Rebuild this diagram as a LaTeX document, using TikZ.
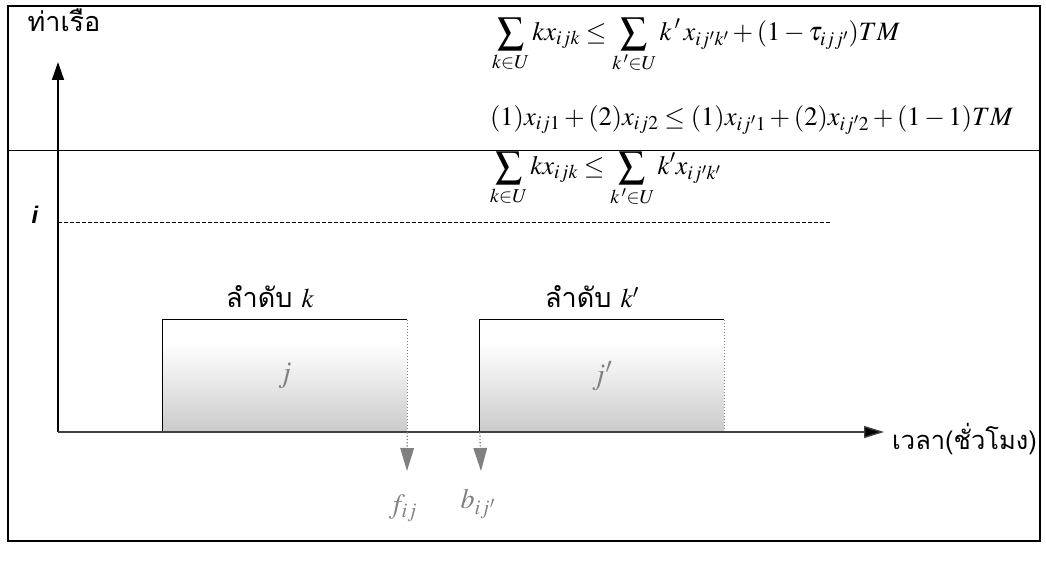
\documentclass[tikz,border=0pt]{standalone}
\usepackage{mathptmx}
\usepackage{fontspec}
\setmainfont{Liberation Serif}
\newfontfamily\thaifont[Script=Thai]{Loma}
\newfontfamily\ilabelfont{Liberation Sans}
\usetikzlibrary{arrows.meta}

\pgfdeclareverticalshading{slotfade}{100bp}{color(0bp)=(black!32); color(30bp)=(black!18); color(55bp)=(black!5); color(65bp)=(white); color(100bp)=(white)}

\tikzset{
  thai/.style={font=\thaifont\fontsize{27}{31}\selectfont, inner sep=0pt},
  eqn/.style={font=\fontsize{26.5}{30}\selectfont, inner sep=0pt},
  slot/.style={minimum width=244pt, minimum height=112pt, inner sep=0pt,
    shading=slotfade, draw=none,
    text=gray, font=\fontsize{30}{34}\selectfont},
  drop/.style={gray, dotted, line width=1.3pt,
    -{Triangle[length=23pt,width=14pt,fill=gray,line width=0pt]}},
  sub/.style={text=gray, font=\fontsize{28}{32}\selectfont, inner sep=0pt}
}

\begin{document}
\begin{tikzpicture}[x=1pt, y=-1pt]

\useasboundingbox (0,0) rectangle (1046,564);

% ── Frame ──
\draw[line width=2pt] (8,6) rectangle (1040,541);
\draw[line width=0.8pt] (8,150) -- (1040,150);

% ── Time slots of the berth ──
\node[slot] (boxk) at (285,376) {$j$};
\node[slot] (boxkp) at (602,376) {$j'$};
\draw[line width=0.8pt] (boxk.south west) -- (boxk.north west) -- (boxk.north east);
\draw[gray, dotted, line width=1pt] (boxk.north east) -- (boxk.south east);
\draw[line width=0.8pt] (boxkp.south west) -- (boxkp.north west) -- (boxkp.north east);
\draw[gray, dotted, line width=1pt] (boxkp.north east) -- (boxkp.south east);

\node[thai] (seqk) at (270,297) {ลำดับ $k$};
\node[thai] (seqkp) at (592,297) {ลำดับ $k'$};

% ── Axes ──
\coordinate (origin) at (58,432);
\coordinate (ytop) at (58,62);
\coordinate (xend) at (884,432);
\draw[line width=1.6pt, -{Triangle[length=18pt,width=12pt]}] (origin) -- (ytop);
\draw[line width=1.4pt, black!75, -{Triangle[length=20pt,width=12pt,fill=black]}] (origin) -- (xend);
\node[thai] (ylab) at (64,20) {ท่าเรือ};
\node[thai, anchor=west, font=\thaifont\fontsize{25.5}{30}\selectfont] (xlab) at (892,439) {เวลา(ชั่วโมง)};

% berth i
\node[font=\ilabelfont\bfseries\itshape\fontsize{24}{28}\selectfont, inner sep=0pt] (berthi) at (35,215) {i};
\coordinate (iend) at (830,222);
\draw[dashed, line width=0.7pt, dash pattern=on 4pt off 2pt] (58,222) -- (iend);

% ── Finish and begin times ──
\coordinate (fend) at (407,471);
\coordinate (bend) at (481,471);
\draw[drop] (boxk.south east) -- (fend);
\draw[drop] (boxkp.south west) -- (bend);
\node[sub] (fij) at (403,508) {$f_{ij}$};
\node[sub] (bij) at (478,504) {$b_{ij'}$};

% ── Constraint ──
\node[eqn, anchor=west] (eqa) at (492,45) {$\displaystyle\sum_{k\in U} kx_{ijk} \le \sum_{k\,'\in U} k\,'\,x_{ij'k'} + (1-\tau_{ijj'})TM$};
\node[eqn, anchor=west] (eqb) at (490,120) {$(1)x_{ij1} + (2)x_{ij2} \le (1)x_{ij'1} + (2)x_{ij'2} + (1-1)TM$};
\node[eqn, anchor=west] (eqc) at (490,179) {$\displaystyle\sum_{k\in U} kx_{ijk} \le \sum_{k\,'\in U} k'x_{ij'k'}$};

\end{tikzpicture}
\end{document}
